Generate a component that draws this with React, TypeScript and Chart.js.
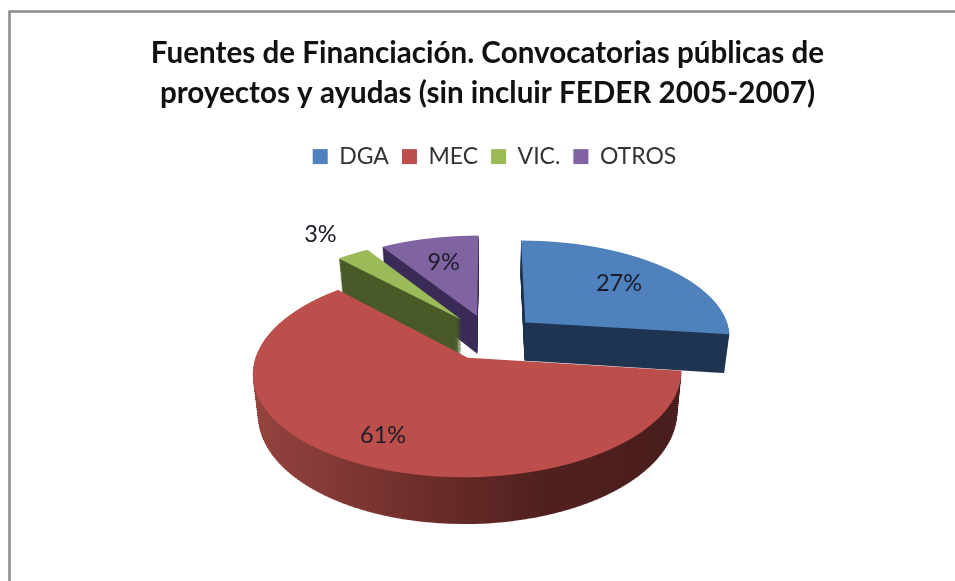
import React, { useEffect, useRef } from "react";
import { Chart, registerables } from "chart.js";

Chart.register(...registerables);

const titleLines = [
  "Fuentes de Financiación. Convocatorias públicas de",
  "proyectos y ayudas (sin incluir FEDER 2005-2007)",
];
const categories = ["DGA", "MEC", "VIC.", "OTROS"];
const shares = [27, 61, 3, 9];
const topColors = ["#4f81bd", "#bc4f4c", "#9bbb59", "#8064a2"];
const sideColors = ["#1f3552", "", "#4a5a28", "#3a2b57"];
const paintOrder = [3, 2, 0, 1];

const W = 955;
const H = 581;
const CX = 490;
const CY = 337;
const PERSP = 0.000668;
const SQUASH = 0.47;
const DEPTH = 37;
const LAYERS = 37;

const scaleAt = (y: number) => 1 / (1 - PERSP * y);
const fwd = (y: number) => (SQUASH * y) / (1 - PERSP * y);
const inv = (v: number) => v / (SQUASH + PERSP * v);
const labelReach = (share: number) => (share < 5 ? 1.34 : share > 50 ? 0.77 : 0.67);

const pie3d = {
  id: "pie3d",
  afterUpdate(chart: any) {
    chart.legend.left += 7;
    chart.legend.right += 7;
  },
  beforeDraw(chart: any) {
    const c = chart.ctx;
    c.save();
    c.strokeStyle = "#8c8c8c";
    c.lineWidth = 2.5;
    c.strokeRect(9.5, 11.5, 2000, 2000);
    c.restore();
  },
  beforeDatasetsDraw(chart: any) {
    const c = chart.ctx as CanvasRenderingContext2D;
    const arcs = chart.getDatasetMeta(0).data as any[];

    const paint = (arc: any, fill: any, d: number, step: number) => {
      const orig = arc.options;
      const mid = (arc.startAngle + arc.endAngle) / 2;
      const ex = Math.cos(mid) * orig.offset;
      const ey = Math.sin(mid) * orig.offset;
      const R = arc.outerRadius;
      const top = Math.floor(CY + fwd(ey - R) - 2);
      const bot = Math.ceil(CY + fwd(ey + R) + d * DEPTH * 1.3 + 2);
      arc.options = { ...orig, offset: 0, borderWidth: 0 };
      for (let Y = top; Y < bot; Y += step) {
        const ym = Y + step / 2 - CY;
        const y0 = inv(ym);
        const shift = d * DEPTH * scaleAt(y0);
        const y = inv(ym - shift);
        if (y < ey - R - 6 || y > ey + R + 6) continue;
        const s = scaleAt(y);
        const a = s * (1 - 0.022 * d);
        const e = CX + a * (ex - arc.x);
        const k = SQUASH / ((1 - PERSP * y) * (1 - PERSP * y));
        const f = CY + fwd(y) + shift + k * (ey - arc.y - y);
        c.save();
        c.beginPath();
        c.rect(0, Y, W, step);
        c.clip();
        c.setTransform(a, 0, 0, k, e, f);
        arc.options.backgroundColor = typeof fill === "function" ? fill(a, e) : fill;
        arc.draw(c);
        c.restore();
      }
      arc.options = orig;
    };

    const redSide = (a: number, e: number) => {
      const g = c.createLinearGradient((255 - e) / a, 0, (672 - e) / a, 0);
      g.addColorStop(0, "#95433f");
      g.addColorStop(0.4, "#6e2d2a");
      g.addColorStop(0.7, "#4f201e");
      g.addColorStop(1, "#4a1e1c");
      return g;
    };

    for (const i of paintOrder) {
      const arc = arcs[i];
      const side = sideColors[i] || redSide;
      for (let l = LAYERS; l > 0; l--) paint(arc, side, l / LAYERS, 2);
      paint(arc, topColors[i], 0, 1);
    }

    c.save();
    c.font = "23.5px Lato";
    c.fillStyle = "#1c1c28";
    c.textAlign = "center";
    c.textBaseline = "middle";
    arcs.forEach((arc, i) => {
      const mid = (arc.startAngle + arc.endAngle) / 2;
      const reach = arc.options.offset + arc.outerRadius * labelReach(shares[i]);
      const x = Math.cos(mid) * reach;
      const y = Math.sin(mid) * reach;
      c.fillText(shares[i] + "%", CX + x * scaleAt(y), CY + fwd(y));
    });
    c.restore();
    return false;
  },
};

export default function App() {
  const ref = useRef<HTMLCanvasElement>(null);
  useEffect(() => {
    const chart = new Chart(ref.current as HTMLCanvasElement, {
      type: "pie",
      data: {
        labels: categories,
        datasets: [
          {
            data: shares,
            backgroundColor: topColors,
            borderWidth: 0,
            offset: 48,
            radius: 206,
          } as any,
        ],
      },
      options: {
        responsive: false,
        animation: false,
        events: [],
        layout: { padding: { left: 20 } },
        plugins: {
          title: {
            display: true,
            text: titleLines,
            color: "#111111",
            font: { family: "Lato", size: 29.6, weight: "bold", lineHeight: 1.37 },
            padding: { top: 33, bottom: 18 },
          },
          legend: {
            position: "top",
            labels: {
              color: "#333333",
              boxWidth: 15,
              boxHeight: 15,
              padding: 13,
              font: { family: "Lato", size: 23 },
            },
          },
          tooltip: { enabled: false },
        },
      },
      plugins: [pie3d],
    } as any);
    return () => chart.destroy();
  }, []);
  return (
    <div style={{ position: "fixed", left: 0, top: 0, width: W, height: H, background: "#fff" }}>
      <canvas ref={ref} width={W} height={H} style={{ display: "block" }} />
    </div>
  );
}
